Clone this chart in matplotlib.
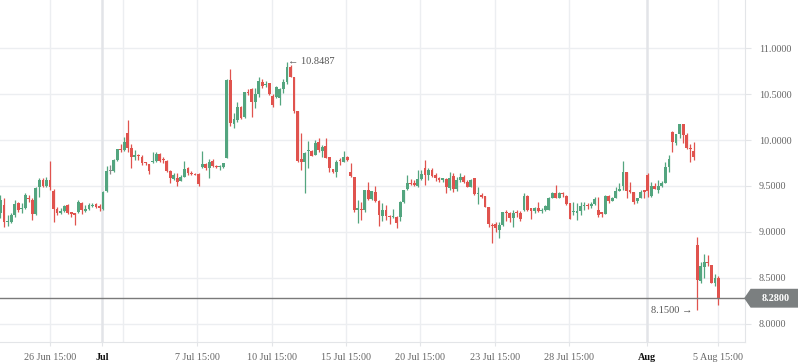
import matplotlib.pyplot as plt
import numpy as np
from matplotlib.patches import Polygon
import matplotlib.transforms as mtransforms

plt.rcParams['font.family'] = ['Liberation Serif', 'DejaVu Sans']

# candles: open, high, low, close
opens = [9.21, 9.29, 9.11, 9.11, 9.18, 9.32, 9.25, 9.26, 9.37, 9.35,
         9.20, 9.49, 9.57, 9.50, 9.57, 9.45, 9.25, 9.21, 9.23, 9.29,
         9.21, 9.20, 9.22, 9.32, 9.23, 9.25, 9.28, 9.30, 9.28, 9.25,
         9.45, 9.66, 9.66, 9.78, 9.90, 9.89, 10.08, 9.91, 9.82, 9.84,
         9.82, 9.76, 9.74, 9.76, 9.77, 9.85, 9.79, 9.77, 9.66, 9.58,
         9.59, 9.55, 9.60, 9.70, 9.64, 9.63, 9.63, 9.71, 9.74, 9.70,
         9.77, 9.72, 9.71, 9.71, 9.80, 10.65, 10.17, 10.22, 10.36, 10.25,
         10.52, 10.55, 10.41, 10.50, 10.63, 10.60, 10.62, 10.48, 10.47, 10.46,
         10.55, 10.63, 10.79, 10.68, 10.32, 9.79, 9.76, 9.88, 9.88, 9.84,
         9.98, 9.88, 9.93, 9.82, 9.68, 9.65, 9.78, 9.76, 9.82, 9.65,
         9.60, 9.24, 9.25, 9.24, 9.46, 9.36, 9.43, 9.34, 9.17, 9.24,
         9.17, 9.16, 9.16, 9.16, 9.33, 9.47, 9.53, 9.53, 9.50, 9.58,
         9.70, 9.62, 9.67, 9.62, 9.59, 9.57, 9.58, 9.48, 9.61, 9.47,
         9.57, 9.60, 9.54, 9.49, 9.59, 9.41, 9.40, 9.39, 9.27, 9.08,
         9.09, 9.02, 9.08, 9.22, 9.21, 9.15, 9.22, 9.21, 9.24, 9.39,
         9.26, 9.23, 9.26, 9.23, 9.24, 9.24, 9.37, 9.42, 9.37, 9.42,
         9.39, 9.32, 9.22, 9.21, 9.23, 9.28, 9.29, 9.28, 9.30, 9.24,
         9.21, 9.20, 9.39, 9.34, 9.37, 9.45, 9.50, 9.65, 9.45, 9.43,
         9.34, 9.37, 9.45, 9.62, 9.39, 9.50, 9.46, 9.50, 9.53, 9.71,
         10.09, 9.97, 10.06, 10.17, 10.05, 9.91, 9.88, 8.86, 8.47, 8.62,
         8.67, 8.64, 8.45, 8.50]
highs = [9.40, 9.37, 9.18, 9.21, 9.35, 9.33, 9.32, 9.42, 9.40, 9.37,
         9.49, 9.59, 9.59, 9.60, 9.77, 9.47, 9.27, 9.26, 9.29, 9.30,
         9.22, 9.21, 9.35, 9.33, 9.29, 9.32, 9.32, 9.32, 9.30, 9.45,
         9.72, 9.73, 9.79, 9.90, 9.96, 10.03, 10.22, 9.96, 9.89, 9.85,
         9.84, 9.76, 9.74, 9.87, 9.87, 9.86, 9.82, 9.78, 9.67, 9.64,
         9.64, 9.62, 9.77, 9.71, 9.66, 9.64, 9.64, 9.88, 9.75, 9.79,
         9.79, 9.73, 9.73, 9.75, 10.66, 10.77, 10.29, 10.41, 10.37, 10.52,
         10.55, 10.57, 10.57, 10.68, 10.66, 10.64, 10.62, 10.50, 10.59, 10.57,
         10.66, 10.85, 10.82, 10.68, 10.32, 10.08, 9.87, 9.99, 9.89, 10.00,
         10.02, 9.95, 10.02, 9.82, 9.68, 9.78, 9.80, 9.88, 9.83, 9.75,
         9.60, 9.35, 9.33, 9.46, 9.54, 9.45, 9.50, 9.35, 9.32, 9.29,
         9.18, 9.25, 9.17, 9.34, 9.46, 9.62, 9.58, 9.57, 9.67, 9.67,
         9.78, 9.70, 9.70, 9.64, 9.60, 9.59, 9.59, 9.65, 9.64, 9.60,
         9.64, 9.62, 9.57, 9.58, 9.59, 9.49, 9.42, 9.39, 9.27, 9.10,
         9.11, 9.11, 9.22, 9.24, 9.22, 9.24, 9.24, 9.23, 9.42, 9.40,
         9.26, 9.27, 9.33, 9.26, 9.29, 9.38, 9.44, 9.51, 9.44, 9.44,
         9.40, 9.32, 9.33, 9.32, 9.33, 9.33, 9.32, 9.33, 9.38, 9.38,
         9.22, 9.40, 9.40, 9.38, 9.49, 9.53, 9.77, 9.65, 9.54, 9.43,
         9.37, 9.46, 9.46, 9.64, 9.54, 9.53, 9.57, 9.55, 9.76, 9.84,
         10.10, 10.07, 10.17, 10.17, 10.08, 9.96, 9.98, 8.95, 8.67, 8.76,
         8.75, 8.64, 8.54, 8.52]
lows = [9.15, 9.05, 9.07, 9.10, 9.16, 9.22, 9.21, 9.25, 9.33, 9.13,
        9.19, 9.38, 9.49, 9.49, 9.46, 9.11, 9.18, 9.20, 9.22, 9.20,
        9.16, 9.08, 9.21, 9.20, 9.22, 9.24, 9.27, 9.26, 9.23, 9.24,
        9.43, 9.63, 9.65, 9.77, 9.87, 9.88, 9.87, 9.70, 9.78, 9.78,
        9.73, 9.73, 9.63, 9.75, 9.76, 9.76, 9.75, 9.65, 9.53, 9.57,
        9.50, 9.55, 9.60, 9.62, 9.62, 9.62, 9.50, 9.70, 9.67, 9.59,
        9.71, 9.70, 9.67, 9.70, 9.80, 10.15, 10.13, 10.20, 10.23, 10.24,
        10.49, 10.25, 10.35, 10.47, 10.57, 10.58, 10.49, 10.36, 10.46, 10.38,
        10.51, 10.61, 10.68, 10.29, 9.76, 9.67, 9.42, 9.70, 9.83, 9.84,
        9.87, 9.82, 9.80, 9.65, 9.64, 9.60, 9.73, 9.76, 9.77, 9.60,
        9.22, 9.10, 9.13, 9.22, 9.35, 9.35, 9.33, 9.07, 9.12, 9.13,
        9.09, 9.15, 9.04, 9.12, 9.32, 9.46, 9.51, 9.50, 9.49, 9.57,
        9.51, 9.57, 9.60, 9.55, 9.54, 9.54, 9.42, 9.46, 9.43, 9.45,
        9.54, 9.53, 9.49, 9.49, 9.40, 9.30, 9.37, 9.27, 9.05, 8.88,
        9.00, 8.94, 9.07, 9.12, 9.11, 9.05, 9.16, 9.12, 9.23, 9.23,
        9.14, 9.21, 9.22, 9.21, 9.23, 9.24, 9.37, 9.37, 9.37, 9.38,
        9.29, 9.14, 9.18, 9.13, 9.18, 9.24, 9.25, 9.26, 9.29, 9.16,
        9.16, 9.20, 9.32, 9.34, 9.37, 9.45, 9.46, 9.37, 9.42, 9.30,
        9.32, 9.37, 9.37, 9.38, 9.38, 9.47, 9.42, 9.49, 9.53, 9.65,
        9.87, 9.95, 10.02, 9.97, 9.90, 9.76, 9.78, 8.15, 8.45, 8.50,
        8.63, 8.44, 8.41, 8.21]
closes = [9.35, 9.11, 9.12, 9.18, 9.30, 9.24, 9.26, 9.40, 9.36, 9.20,
          9.48, 9.57, 9.50, 9.57, 9.49, 9.25, 9.21, 9.23, 9.28, 9.21,
          9.20, 9.19, 9.33, 9.24, 9.25, 9.29, 9.29, 9.27, 9.26, 9.43,
          9.66, 9.66, 9.78, 9.90, 9.89, 9.98, 9.91, 9.82, 9.84, 9.83,
          9.75, 9.75, 9.66, 9.77, 9.85, 9.77, 9.78, 9.66, 9.59, 9.62,
          9.54, 9.60, 9.68, 9.64, 9.63, 9.62, 9.52, 9.74, 9.70, 9.76,
          9.72, 9.71, 9.72, 9.75, 10.65, 10.18, 10.23, 10.36, 10.24, 10.52,
          10.51, 10.41, 10.50, 10.64, 10.59, 10.61, 10.50, 10.38, 10.58, 10.55,
          10.63, 10.79, 10.68, 10.32, 9.77, 9.76, 9.86, 9.89, 9.83, 9.97,
          9.89, 9.92, 9.80, 9.70, 9.65, 9.76, 9.77, 9.82, 9.78, 9.61,
          9.24, 9.26, 9.24, 9.46, 9.36, 9.45, 9.34, 9.18, 9.24, 9.17,
          9.16, 9.17, 9.10, 9.33, 9.46, 9.53, 9.52, 9.51, 9.58, 9.63,
          9.62, 9.67, 9.61, 9.59, 9.57, 9.58, 9.49, 9.59, 9.47, 9.57,
          9.60, 9.54, 9.49, 9.57, 9.41, 9.42, 9.38, 9.27, 9.09, 9.06,
          9.04, 9.08, 9.22, 9.21, 9.15, 9.21, 9.21, 9.14, 9.39, 9.24,
          9.23, 9.26, 9.23, 9.24, 9.28, 9.37, 9.42, 9.37, 9.42, 9.41,
          9.30, 9.14, 9.23, 9.23, 9.28, 9.29, 9.28, 9.30, 9.36, 9.18,
          9.20, 9.39, 9.34, 9.37, 9.45, 9.47, 9.65, 9.45, 9.44, 9.33,
          9.37, 9.43, 9.44, 9.45, 9.50, 9.47, 9.50, 9.53, 9.71, 9.79,
          9.98, 10.06, 10.17, 10.05, 9.91, 9.90, 9.82, 8.48, 8.63, 8.67,
          8.66, 8.45, 8.50, 8.28]

tick_pos = [14.0, 28.7, 55.6, 76.8, 97.7, 118.6, 139.8, 160.8, 182.8, 202.9]
tick_labels = ['26 Jun 15:00', 'Jul', '7 Jul 15:00', '10 Jul 15:00', '15 Jul 15:00',
               '20 Jul 15:00', '23 Jul 15:00', '28 Jul 15:00', 'Aug', '5 Aug 15:00']
extra_grid = [34.6]
y_ticks = [8.0, 8.5, 9.0, 9.5, 10.0, 10.5, 11.0]
last_price = 8.28
max_price = 10.8487
min_price = 8.15

o = np.array(opens); h = np.array(highs); l = np.array(lows); c = np.array(closes)
x = np.arange(len(o))

green = '#53a57f'
red = '#e0534e'
grey = '#8a8a8a'
cols = np.where(c > o, green, np.where(c < o, red, grey))

fig = plt.figure(figsize=(7.98, 3.63), dpi=100)
ax = fig.add_axes([0, 21/363, 745/798, 342/363])

# grid
for yv in y_ticks:
    ax.axhline(yv, color='#eceef1', lw=1, zorder=0)
for xp, lab in zip(tick_pos, tick_labels):
    strong = lab in ('Jul', 'Aug')
    ax.axvline(xp, color='#e2e4e8' if strong else '#eceef1', lw=1.8 if strong else 1, zorder=0)
for xp in extra_grid:
    ax.axvline(xp, color='#eceef1', lw=1, zorder=0)

ax.vlines(x, l, h, colors=cols, lw=0.9, zorder=2)
body = np.maximum(np.abs(c - o), 0.012)
ax.bar(x, body, bottom=np.minimum(o, c), width=0.8, color=cols, lw=0, zorder=3)

ax.axhline(last_price, color='#7a7a7a', lw=1, zorder=4)

ax.set_xlim(-0.14, 210.5)
ax.set_ylim(7.804, 11.522)

for s in ['top', 'left']:
    ax.spines[s].set_visible(False)
ax.spines['bottom'].set_color('#e3e5e8')
ax.spines['right'].set_color('#e3e5e8')
ax.yaxis.tick_right()
ax.set_yticks(y_ticks)
ax.set_yticklabels(['%.4f' % v for v in y_ticks])
ax.tick_params(axis='y', length=4, color='#e3e5e8', labelsize=7.3, labelcolor='#666666', pad=6)
ax.set_xticks(tick_pos)
ax.set_xticklabels(tick_labels)
ax.tick_params(axis='x', length=3, color='#e3e5e8', labelsize=7.3, labelcolor='#666666', pad=5)
for t in ax.get_xticklabels():
    if t.get_text() in ('Jul', 'Aug'):
        t.set_color('#111111')
        t.set_fontweight('bold')

# annotations
ax.text(81.4, max_price, '\u2190 %.4f' % max_price, fontsize=7.5, color='#555555',
        va='center', ha='left', zorder=5)
ax.text(195.6, min_price, '%.4f \u2192' % min_price, fontsize=7.5, color='#555555',
        va='center', ha='right', zorder=5)

# last price badge
tr = mtransforms.blended_transform_factory(ax.transAxes, ax.transData)
hh = 0.095
badge = Polygon([(1.0, last_price), (751/745, last_price + hh), (798/745, last_price + hh),
                 (798/745, last_price - hh), (751/745, last_price - hh)],
                closed=True, transform=tr, clip_on=False, color='#7b7f80', zorder=6)
ax.add_patch(badge)
ax.text(776/745, last_price, '%.4f' % last_price, transform=tr, ha='center', va='center',
        color='white', fontsize=7.3, fontweight='bold', zorder=7, clip_on=False)

fig.savefig('out.png', dpi=100)
